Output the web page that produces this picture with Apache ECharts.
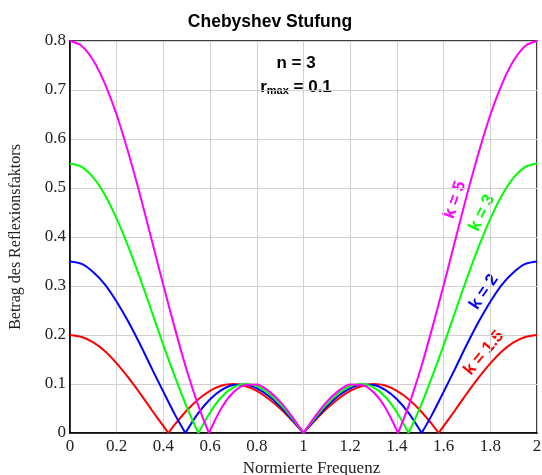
<!DOCTYPE html>
<html><head><meta charset="utf-8">
<script src="https://cdn.jsdelivr.net/npm/echarts@6/dist/echarts.min.js"></script>
<style>html,body{margin:0;padding:0;background:#fff}#c{width:542px;height:475px}</style>
</head><body><div id="c"></div>
<script>
// Normierte Frequenz vs |Reflexionsfaktor|
var k15 = [[0,0.200],[0.05,0.196],[0.1,0.185],[0.15,0.167],[0.2,0.142],[0.25,0.113],[0.3,0.081],[0.35,0.047],[0.4,0.014],[0.4215,0],[0.45,0.018],[0.5,0.046],[0.55,0.069],[0.6,0.086],[0.65,0.097],[0.7,0.100],[0.75,0.096],[0.8,0.086],[0.85,0.070],[0.9,0.050],[0.95,0.026],[1,0],
  [1.05,0.026],[1.1,0.050],[1.15,0.070],[1.2,0.086],[1.25,0.096],[1.3,0.100],[1.35,0.097],[1.4,0.086],[1.45,0.069],[1.5,0.046],[1.55,0.018],[1.5785,0],[1.6,0.014],[1.65,0.047],[1.7,0.081],[1.75,0.113],[1.8,0.142],[1.85,0.167],[1.9,0.185],[1.95,0.196],[2,0.200]];
var k2 = [[0,0.350],[0.05,0.345],[0.1,0.328],[0.15,0.303],[0.2,0.268],[0.25,0.227],[0.3,0.181],[0.35,0.132],[0.4,0.084],[0.45,0.037],[0.494,0],[0.55,0.041],[0.6,0.069],[0.65,0.088],[0.7,0.098],[0.75,0.099],[0.8,0.091],[0.85,0.076],[0.9,0.054],[0.95,0.028],[1,0],
  [1.05,0.028],[1.1,0.054],[1.15,0.076],[1.2,0.091],[1.25,0.099],[1.3,0.098],[1.35,0.088],[1.4,0.069],[1.45,0.041],[1.506,0],[1.55,0.037],[1.6,0.084],[1.65,0.132],[1.7,0.181],[1.75,0.227],[1.8,0.268],[1.85,0.303],[1.9,0.328],[1.95,0.345],[2,0.350]];
var k3 = [[0,0.550],[0.05,0.543],[0.1,0.521],[0.15,0.485],[0.2,0.437],[0.25,0.380],[0.3,0.316],[0.35,0.248],[0.4,0.179],[0.45,0.114],[0.5,0.053],[0.55,0],[0.6,0.042],[0.65,0.074],[0.7,0.093],[0.75,0.100],[0.8,0.096],[0.85,0.081],[0.9,0.059],[0.95,0.031],[1,0],
  [1.05,0.031],[1.1,0.059],[1.15,0.081],[1.2,0.096],[1.25,0.100],[1.3,0.093],[1.35,0.074],[1.4,0.042],[1.45,0],[1.5,0.053],[1.55,0.114],[1.6,0.179],[1.65,0.248],[1.7,0.316],[1.75,0.380],[1.8,0.437],[1.85,0.485],[1.9,0.521],[1.95,0.543],[2,0.550]];
var k5 = [[0,0.800],[0.05,0.790],[0.1,0.760],[0.15,0.712],[0.2,0.649],[0.25,0.572],[0.3,0.486],[0.35,0.394],[0.4,0.301],[0.45,0.212],[0.5,0.128],[0.55,0.055],[0.595,0],[0.65,0.052],[0.7,0.083],[0.75,0.098],[0.8,0.099],[0.85,0.086],[0.9,0.064],[0.95,0.034],[1,0],
  [1.05,0.034],[1.1,0.064],[1.15,0.086],[1.2,0.099],[1.25,0.098],[1.3,0.083],[1.35,0.052],[1.405,0],[1.45,0.055],[1.5,0.128],[1.55,0.212],[1.6,0.301],[1.65,0.394],[1.7,0.486],[1.75,0.572],[1.8,0.649],[1.85,0.712],[1.9,0.760],[1.95,0.790],[2,0.800]];
var curveNames = ['k = 1.5','k = 2','k = 3','k = 5'];
var curveColors = ['#ff0000','#0000ff','#00ff00','#ff00ff'];
var curveData = [k15,k2,k3,k5];

function splitAtZeros(d){
  var segs=[],cur=[];
  for(var i=0;i<d.length;i++){
    cur.push(d[i]);
    if(d[i][1]===0 && i>0 && i<d.length-1){segs.push(cur);cur=[d[i]];}
  }
  if(cur.length>1)segs.push(cur);
  return segs;
}
var series=[];
curveData.forEach(function(d,idx){
  splitAtZeros(d).forEach(function(seg){
    series.push({type:'line',name:curveNames[idx],data:seg,showSymbol:false,smooth:0.3,
      lineStyle:{color:curveColors[idx],width:2},itemStyle:{color:curveColors[idx]},z:2+idx,animation:false});
  });
});
var serif='"Liberation Serif","Times New Roman",serif';
var sans='"Liberation Sans",Arial,sans-serif';
var chart=echarts.init(document.getElementById('c'));
chart.setOption({
  animation:false,
  grid:{left:70,right:5,top:41,bottom:42,containLabel:false,outerBoundsMode:'none',show:true,borderColor:'#000',borderWidth:1.5,backgroundColor:'transparent'},
  xAxis:{type:'value',min:0,max:2,interval:0.2,
    name:'Normierte Frequenz',nameLocation:'middle',nameGap:26,nameTextStyle:{fontFamily:serif,fontSize:17,color:'#222',padding:[0,0,0,16]},
    axisLine:{show:true,lineStyle:{color:'#000',width:1.5}},axisTick:{show:false},
    axisLabel:{fontFamily:serif,fontSize:17,color:'#222',margin:5},
    splitLine:{show:true,lineStyle:{color:'#d0d0d0',width:1}}},
  yAxis:{type:'value',min:0,max:0.8,interval:0.1,
    name:'Betrag des Reflexionsfaktors',nameLocation:'middle',nameGap:46,nameTextStyle:{fontFamily:serif,fontSize:16,color:'#222'},
    axisLine:{show:true,lineStyle:{color:'#000',width:1.5}},axisTick:{show:false},
    axisLabel:{fontFamily:serif,fontSize:17,color:'#222',margin:4},
    splitLine:{show:true,lineStyle:{color:'#d0d0d0',width:1}}},
  graphic:[
    {type:'text',x:270,y:22,style:{text:'Chebyshev Stufung',font:'bold 17.5px '+sans,fill:'#000',align:'center',verticalAlign:'middle'}},
    {type:'text',x:296,y:63,style:{text:'n = 3',font:'bold 17px '+sans,fill:'#000',align:'center',verticalAlign:'middle'}},
    {type:'text',x:296,y:87,style:{text:'{a|r}{b|max}{a| = 0.1}',align:'center',verticalAlign:'middle',
      rich:{a:{fontFamily:sans,fontWeight:'bold',fontSize:17,color:'#000'},b:{fontFamily:sans,fontWeight:'bold',fontSize:11,color:'#000',padding:[8,0,0,0]}}}},
    {type:'text',x:455,y:200,rotation:71*Math.PI/180,style:{text:'k = 5',font:'bold 17px '+sans,fill:'#ff00ff',align:'center',verticalAlign:'middle'}},
    {type:'text',x:482,y:213,rotation:64*Math.PI/180,style:{text:'k = 3',font:'bold 17px '+sans,fill:'#00ff00',align:'center',verticalAlign:'middle'}},
    {type:'text',x:484,y:292,rotation:56*Math.PI/180,style:{text:'k = 2',font:'bold 17px '+sans,fill:'#0000ff',align:'center',verticalAlign:'middle'}},
    {type:'text',x:484,y:353,rotation:50*Math.PI/180,style:{text:'k = 1.5',font:'bold 17px '+sans,fill:'#ff0000',align:'center',verticalAlign:'middle'}}
  ],
  series:series
});
</script></body></html>
